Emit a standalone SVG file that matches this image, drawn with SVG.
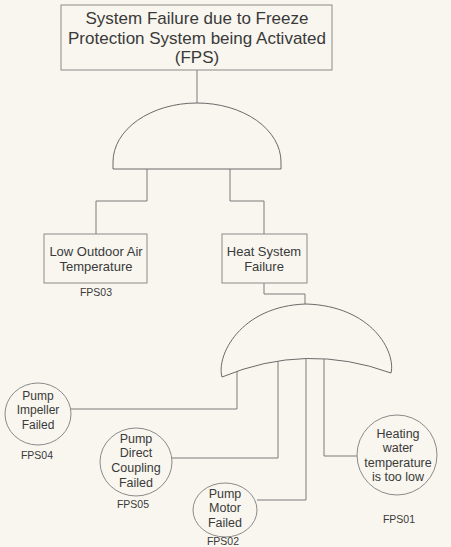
<svg xmlns="http://www.w3.org/2000/svg" width="451" height="547" viewBox="0 0 451 547">
<style>
.bg{fill:#f8f6ef}
.ln{fill:none;stroke:#7a7a7a;stroke-width:1}
.box{fill:#f8f6ef;stroke:#8a8a8a;stroke-width:1}
.gate{fill:#f8f6ef;stroke:#6a6a6a;stroke-width:1}
.t{font-family:"Liberation Sans",Arial,sans-serif;fill:#3a3a3a;text-anchor:middle;dominant-baseline:central}
.big{font-size:17px}
.mid{font-size:13px}
.cir{font-size:12px}
.cir2{font-size:12.5px}
.sm{font-size:10.5px}
</style>
<rect class="bg" x="0" y="0" width="451" height="547"/>
<g id="connectors">
<path class="ln" d="M197,70 V110"/>
<path class="ln" d="M147,160 V201 H96 V234"/>
<path class="ln" d="M230,160 V201 H264 V234"/>
<path class="ln" d="M264,283 V294 H305 V310"/>
<path class="ln" d="M237,350 V409 H71"/>
<path class="ln" d="M278,350 V458 H172"/>
<path class="ln" d="M306,350 V500 H257"/>
<path class="ln" d="M324,350 V456 H357"/>
</g>
<g id="top">
<rect class="box" x="61" y="5" width="271" height="65"/>
<text class="t big" x="197" y="18">System Failure due to Freeze</text>
<text class="t big" x="197" y="38">Protection System being Activated</text>
<text class="t big" x="197" y="57">(FPS)</text>
</g>
<g id="and-gate">
<path class="gate" d="M113,169 L113,162 A84,59 0 0 1 281,162 L281,169 Z"/>
</g>
<g id="FPS03">
<rect class="box" x="44" y="234" width="103" height="49"/>
<text class="t mid" x="96" y="251">Low Outdoor Air</text>
<text class="t mid" x="96" y="266">Temperature</text>
<text class="t sm" x="96" y="292">FPS03</text>
</g>
<g id="heat">
<rect class="box" x="222" y="234" width="85" height="49"/>
<text class="t mid" x="264" y="251">Heat System</text>
<text class="t mid" x="264" y="266">Failure</text>
</g>
<g id="or-gate">
<path class="gate" d="M222,377 C216,356 240,306 306,304 C372,306 396,352 391,373 Q306,342 222,377 Z"/>
</g>
<g id="FPS04">
<ellipse class="box" cx="38" cy="414" rx="33" ry="31"/>
<text class="t cir" x="38" y="396">Pump</text>
<text class="t cir" x="38" y="410">Impeller</text>
<text class="t cir" x="38" y="425">Failed</text>
<text class="t sm" x="37" y="455">FPS04</text>
</g>
<g id="FPS05">
<ellipse class="box" cx="136" cy="462" rx="36" ry="34"/>
<text class="t cir2" x="136" y="439">Pump</text>
<text class="t cir2" x="136" y="453">Direct</text>
<text class="t cir2" x="136" y="468">Coupling</text>
<text class="t cir2" x="136" y="483">Failed</text>
<text class="t sm" x="133" y="504">FPS05</text>
</g>
<g id="FPS02">
<ellipse class="box" cx="225" cy="510" rx="32" ry="27"/>
<text class="t cir2" x="225" y="494">Pump</text>
<text class="t cir2" x="225" y="508">Motor</text>
<text class="t cir2" x="225" y="523">Failed</text>
<text class="t sm" x="223" y="541">FPS02</text>
</g>
<g id="FPS01">
<ellipse class="box" cx="397" cy="455" rx="40" ry="40"/>
<text class="t cir2" x="398" y="434">Heating</text>
<text class="t cir2" x="398" y="448">water</text>
<text class="t cir2" x="398" y="463">temperature</text>
<text class="t cir2" x="398" y="477">is too low</text>
<text class="t sm" x="399" y="519">FPS01</text>
</g>
</svg>
